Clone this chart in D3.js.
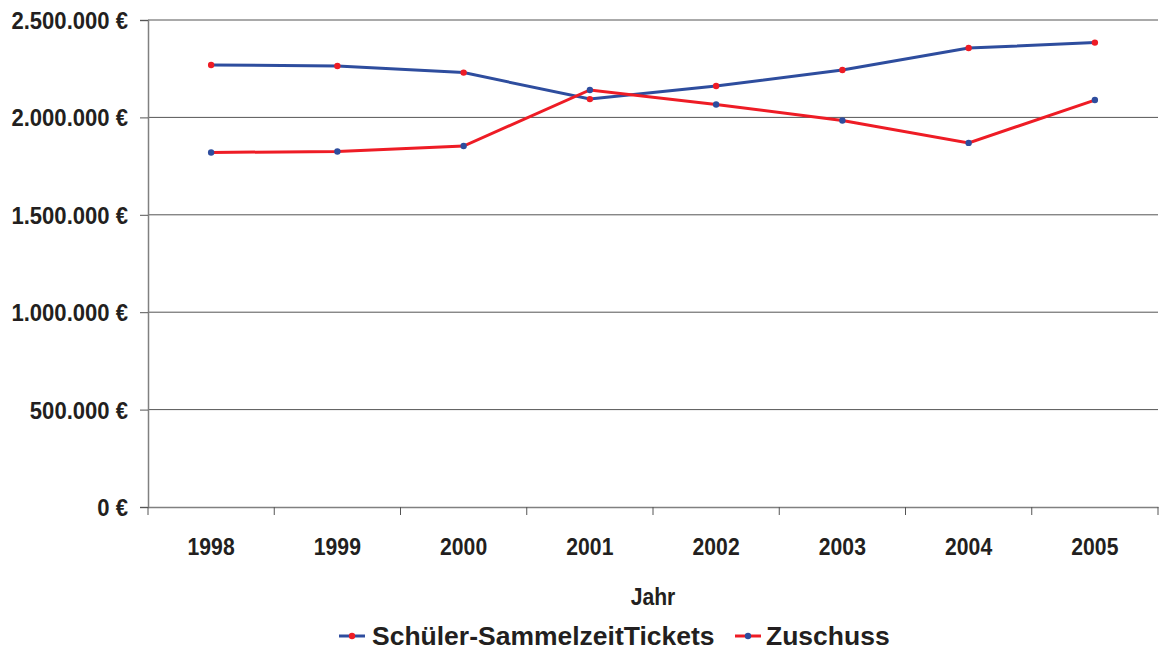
<!DOCTYPE html>
<html>
<head>
<meta charset="utf-8">
<script src="https://cdn.jsdelivr.net/npm/d3@7"></script>
<style>
  body { margin: 0; background: #fff; }
  svg text { font-family: "Liberation Sans", Arial, sans-serif; font-weight: bold; fill: #231f20; }
</style>
</head>
<body>
<script>
const years = ["1998", "1999", "2000", "2001", "2002", "2003", "2004", "2005"];
const tickets = [2269000, 2264000, 2230000, 2094000, 2161000, 2243000, 2356000, 2384000];
const zuschuss = [1820000, 1825000, 1853000, 2141000, 2066000, 1984000, 1869000, 2089000];
const yTicks = [0, 500000, 1000000, 1500000, 2000000, 2500000];

const w = 1159, h = 650;
const padLeft = 148, padRight = 1158, padTop = 20, padBottom = 507;
const squeeze = 0.92; // the original font is a bit narrower than Liberation Sans

const svg = d3.select("body").append("svg")
  .attr("width", w).attr("height", h);

const x = d3.scaleBand().domain(years).range([padLeft, padRight]);
const y = d3.scaleLinear().domain([0, 2500000]).range([padBottom, padTop]);

const fmt = v => d3.format(",")(v).replace(/,/g, ".") + " €";

// gridlines
svg.append("g").selectAll("line")
  .data(yTicks.slice(1))
  .enter().append("line")
  .attr("x1", padLeft).attr("x2", padRight)
  .attr("y1", d => y(d)).attr("y2", d => y(d))
  .attr("stroke", "#555").attr("stroke-width", 1);

// y axis
const yAxis = svg.append("g")
  .attr("transform", `translate(${padLeft},0)`)
  .call(d3.axisLeft(y).tickValues(yTicks).tickFormat(fmt).tickSize(8));
yAxis.select(".domain").attr("stroke", "#808080").attr("stroke-width", 1.5);
yAxis.selectAll(".tick line").attr("stroke", "#555");
yAxis.selectAll("text")
  .attr("font-size", 24)
  .attr("x", -20 / squeeze)
  .attr("dy", "0.35em")
  .attr("transform", `scale(${squeeze},1)`);

// x axis
const xAxis = svg.append("g")
  .attr("transform", `translate(0,${padBottom})`)
  .call(d3.axisBottom(x).tickSize(0));
xAxis.select(".domain").attr("stroke", "#808080").attr("stroke-width", 1.5);
xAxis.selectAll("text")
  .attr("font-size", 23)
  .attr("y", 48)
  .attr("dy", 0)
  .attr("transform", `scale(${squeeze},1)`);
// category boundary ticks
xAxis.selectAll(".bound")
  .data(years.concat(["end"]))
  .enter().append("line")
  .attr("x1", (d, i) => padLeft + i * x.step()).attr("x2", (d, i) => padLeft + i * x.step())
  .attr("y1", 0).attr("y2", 8)
  .attr("stroke", "#555");

svg.append("g")
  .attr("transform", `translate(${(padLeft + padRight) / 2},605) scale(${squeeze},1)`)
  .append("text")
  .attr("text-anchor", "middle").attr("font-size", 23)
  .text("Jahr");

const cx = d => x(d) + x.bandwidth() / 2;
const series = [
  { name: "Schüler-SammelzeitTickets", values: tickets, line: "#2e4d9e", marker: "#ee1c25" },
  { name: "Zuschuss", values: zuschuss, line: "#ee1c25", marker: "#2e4d9e" }
];

const line = d3.line().x((d, i) => cx(years[i])).y(d => y(d));

series.forEach(s => {
  svg.append("path")
    .datum(s.values)
    .attr("d", line)
    .attr("fill", "none")
    .attr("stroke", s.line)
    .attr("stroke-width", 3);
  svg.append("g").selectAll("circle")
    .data(s.values)
    .enter().append("circle")
    .attr("cx", (d, i) => cx(years[i]))
    .attr("cy", d => y(d))
    .attr("r", 3.2)
    .attr("fill", s.marker);
});

// legend
const legend = svg.append("g").attr("transform", "translate(0,636)");
const legendItems = [
  { s: series[0], x0: 339, tx: 372 },
  { s: series[1], x0: 735, tx: 766 }
];
legendItems.forEach(it => {
  legend.append("line")
    .attr("x1", it.x0).attr("x2", it.x0 + 26)
    .attr("y1", 0).attr("y2", 0)
    .attr("stroke", it.s.line).attr("stroke-width", 3);
  legend.append("circle")
    .attr("cx", it.x0 + 13).attr("cy", 0).attr("r", 3.2)
    .attr("fill", it.s.marker);
  legend.append("g")
    .attr("transform", `translate(${it.tx},8.5) scale(1.06,1)`)
    .append("text")
    .attr("font-size", 25)
    .text(it.s.name);
});
</script>
</body>
</html>
